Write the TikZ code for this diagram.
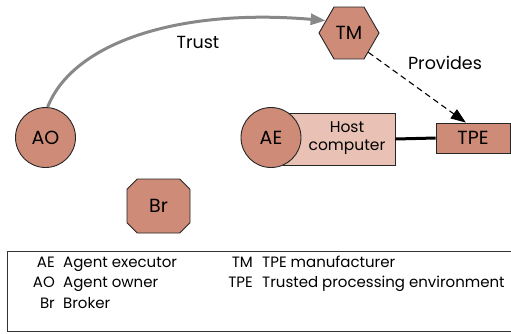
\documentclass[tikz,border=0pt]{standalone}
\usepackage{fontspec}
\setmainfont{Poppins}
\usetikzlibrary{shapes.geometric,shapes.misc,arrows.meta}
\definecolor{nodefill}{HTML}{CD8B78}
\definecolor{hostfill}{HTML}{E9C2B5}
\definecolor{trustgray}{HTML}{888888}
\tikzset{
  party/.style={draw=black!85, line width=0.9pt, fill=nodefill, inner sep=0pt,
    font=\fontsize{19}{21}\selectfont},
  roundparty/.style={party, circle, minimum size=60pt},
  legendtext/.style={font=\fontsize{15}{17}\selectfont, inner sep=0pt},
  edgelabel/.style={font=\fontsize{17.5}{19}\selectfont, inner sep=0pt}
}
\begin{document}
\begin{tikzpicture}[x=1pt, y=-1pt]
  \useasboundingbox (0,0) rectangle (511,333);
  \begin{scope}
    \clip (0,0) rectangle (511,333);

    % host computer with the agent executor in front of it
    \node[party, fill=hostfill, rectangle, minimum width=112pt, minimum height=52pt] (host) at (339,139) {};
    \node[align=center, inner sep=0pt, font=\fontsize{15.5}{18}\selectfont] (hostlabel) at (347,138.5) {Host\\computer};
    \node[roundparty] (AE) at (271,137.5) {AE};

    \node[party, rectangle, minimum width=74pt, minimum height=30pt] (TPE) at (473,138) {TPE};
    \draw[line width=3pt] (host.east) -- (TPE.west);

    \node[roundparty] (AO) at (45.5,137.5) {AO};
    \node[party, regular polygon, regular polygon sides=6, minimum size=60pt] (TM) at (349,33) {TM};
    \node[party, chamfered rectangle, chamfered rectangle xsep=15pt, chamfered rectangle angle=45,
      minimum width=63pt, minimum height=54pt] (Br) at (158.5,206) {Br};

    % trust relation
    \draw[trustgray, line width=3pt, -{Triangle[length=15pt, width=11pt]}]
      (AO.86) .. controls (73,42) and (180,8) .. (TM.152);
    \node[edgelabel] (trust) at (198,42) {Trust};

    % manufacturer provides the processing environment
    \draw[line width=1.1pt, dash pattern=on 6pt off 4pt, -{Triangle[length=15pt, width=11pt]}]
      (TM.-45) -- (TPE.115);
    \node[edgelabel] (provides) at (445,63) {Provides};

    % legend
    \draw[black!80, line width=1pt] (7.5,251) rectangle (530,331);
    \node[legendtext, anchor=base east] (kAE) at (55,267) {AE};
    \node[legendtext, anchor=base west] (vAE) at (63,267) {Agent executor};
    \node[legendtext, anchor=base east] (kAO) at (55,287.5) {AO};
    \node[legendtext, anchor=base west] (vAO) at (63,287.5) {Agent owner};
    \node[legendtext, anchor=base east] (kBr) at (55,308) {Br};
    \node[legendtext, anchor=base west] (vBr) at (63,308) {Broker};
    \node[legendtext, anchor=base east] (kTM) at (253,267) {TM};
    \node[legendtext, anchor=base west] (vTM) at (262,267) {TPE manufacturer};
    \node[legendtext, anchor=base east] (kTPE) at (253,287.5) {TPE};
    \node[legendtext, anchor=base west] (vTPE) at (262,287.5) {Trusted processing environment};
  \end{scope}
\end{tikzpicture}
\end{document}
